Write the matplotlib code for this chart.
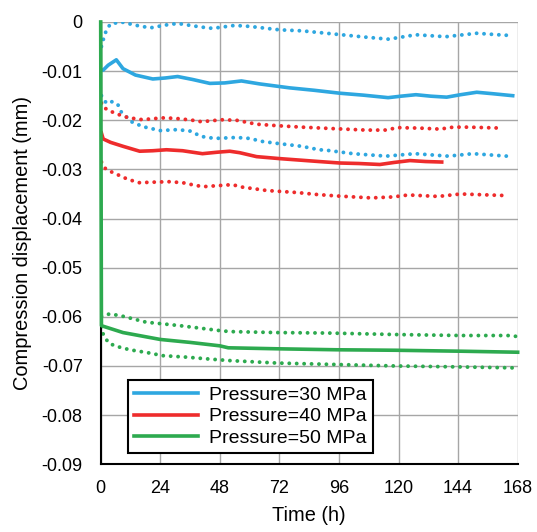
import matplotlib.pyplot as plt

plt.rcParams['font.family'] = ['Liberation Sans', 'DejaVu Sans']

# 30 MPa
t_b = [0, 1, 3, 6.3, 9, 14, 21, 26, 31, 37, 44, 50, 56.7, 64, 76, 86, 96.4, 106, 115.8, 121, 127, 133, 139.4, 145, 151.5, 158, 166]
y_b = [-0.0097, -0.0098, -0.0088, -0.0077, -0.0095, -0.0108, -0.0116, -0.0114, -0.0111, -0.0117, -0.0125, -0.0124, -0.0120, -0.0126, -0.0134, -0.0139, -0.0145, -0.0149, -0.0154, -0.0151, -0.0148, -0.0151, -0.0153, -0.0148, -0.0143, -0.0146, -0.0150]
t_b_hi = [0.3, 1.2, 2.2, 3.9, 8.3, 14.4, 20, 26.5, 31, 40, 45, 54, 60, 72, 81, 95, 107, 116, 127, 139, 151.5, 163, 166]
y_b_hi = [-0.0050, -0.0033, -0.0018, -0.0004, 0.0000, -0.0007, -0.0012, -0.0006, -0.0003, -0.0010, -0.0013, -0.0007, -0.0009, -0.0016, -0.0018, -0.0025, -0.0031, -0.0035, -0.0026, -0.0030, -0.0023, -0.0027, -0.0027]
t_b_lo = [0.3, 1.2, 2.5, 4.7, 6.9, 8.3, 12.4, 17, 24, 31, 36, 40.6, 46, 54.7, 60, 65, 71, 76, 81, 88, 91, 101.7, 115, 126.7, 140, 150, 163.7]
y_b_lo = [-0.0150, -0.0158, -0.0166, -0.0162, -0.0168, -0.0183, -0.0203, -0.0213, -0.0221, -0.0219, -0.0222, -0.0233, -0.0237, -0.0235, -0.0237, -0.0243, -0.0247, -0.0250, -0.0253, -0.0260, -0.0261, -0.0268, -0.0273, -0.0268, -0.0273, -0.0268, -0.0273]

# 40 MPa
t_r = [0.3, 1, 4, 9, 15.7, 21, 26.5, 33, 41, 47, 52, 56, 62.8, 72, 80, 88, 96.4, 104, 112.5, 118, 124.6, 131, 137.4]
y_r = [-0.0226, -0.0238, -0.0245, -0.0253, -0.0263, -0.0262, -0.0260, -0.0262, -0.0268, -0.0265, -0.0263, -0.0266, -0.0274, -0.0278, -0.0281, -0.0284, -0.0287, -0.0288, -0.0290, -0.0286, -0.0282, -0.0284, -0.0285]
t_r_hi = [0.3, 1, 3.2, 6, 8.7, 11.3, 14.4, 17, 20.4, 25.8, 32, 37, 40.6, 48.7, 54.7, 62.8, 71, 81, 93.6, 107, 114.5, 119.8, 128.7, 136.7, 142, 148, 162]
y_r_hi = [-0.0165, -0.0173, -0.0180, -0.0186, -0.0191, -0.0195, -0.0197, -0.0199, -0.0197, -0.0195, -0.0197, -0.0200, -0.0203, -0.0199, -0.0200, -0.0208, -0.0211, -0.0214, -0.0217, -0.0220, -0.0220, -0.0215, -0.0216, -0.0218, -0.0214, -0.0214, -0.0216]
t_r_lo = [0.3, 2, 4.7, 7.4, 10, 12.8, 15.5, 21, 27.4, 33, 38.6, 41.7, 53, 57, 67, 79, 87, 95, 109, 117.8, 123.9, 136, 145, 162]
y_r_lo = [-0.0285, -0.0299, -0.0306, -0.0312, -0.0318, -0.0323, -0.0327, -0.0326, -0.0325, -0.0327, -0.0333, -0.0335, -0.0331, -0.0336, -0.0343, -0.0347, -0.0351, -0.0354, -0.0358, -0.0356, -0.0352, -0.0355, -0.0350, -0.0353]

# 50 MPa
t_g = [0, 0.3, 9, 24, 36, 48, 51.4, 71, 95, 119, 146, 168]
y_g = [0.0, -0.0618, -0.0632, -0.0646, -0.0652, -0.0659, -0.0663, -0.0665, -0.0667, -0.0668, -0.0670, -0.0672]
t_g_hi = [0.3, 3.6, 8.3, 13, 18.4, 24.5, 32, 40, 48, 52, 71, 92, 119, 145, 164, 168]
y_g_hi = [-0.0599, -0.0594, -0.0598, -0.0604, -0.0611, -0.0614, -0.0618, -0.0623, -0.0628, -0.0630, -0.0632, -0.0633, -0.0636, -0.0638, -0.0638, -0.0640]
t_g_lo = [0.3, 1, 3, 5.6, 11.7, 19, 25, 34.6, 44, 52, 71, 95, 119, 146, 168]
y_g_lo = [-0.0620, -0.0635, -0.0652, -0.0659, -0.0667, -0.0673, -0.0679, -0.0682, -0.0686, -0.0689, -0.0694, -0.0697, -0.0700, -0.0702, -0.0704]

blue = '#2EA7E0'
red = '#EE2C2C'
green = '#2DAA4F'

fig = plt.figure(figsize=(5.37, 5.32), dpi=100)
ax = fig.add_axes([0.1875, 0.1273, 0.7765, 0.8314])

dots = dict(linestyle=(0, (0.01, 1.9)), linewidth=2.8, dash_capstyle='round')

ax.plot(t_b_hi, y_b_hi, color=blue, **dots)
ax.plot(t_b_lo, y_b_lo, color=blue, **dots)
ax.plot(t_r_hi, y_r_hi, color=red, **dots)
ax.plot(t_r_lo, y_r_lo, color=red, **dots)
ax.plot(t_g_hi, y_g_hi, color=green, **dots)
ax.plot(t_g_lo, y_g_lo, color=green, **dots)

ax.plot(t_b, y_b, color=blue, linewidth=2.6, label='Pressure=30 MPa')
ax.plot(t_r, y_r, color=red, linewidth=2.6, label='Pressure=40 MPa')
ax.plot(t_g, y_g, color=green, linewidth=2.6, label='Pressure=50 MPa', zorder=4, clip_on=False)

ax.set_xlim(0, 168)
ax.set_ylim(-0.09, 0)
ax.set_xticks(range(0, 169, 24))
ax.set_yticks([-0.09 + 0.01 * i for i in range(10)])
ax.set_yticklabels(['-0.09', '-0.08', '-0.07', '-0.06', '-0.05', '-0.04', '-0.03', '-0.02', '-0.01', '0'])
ax.tick_params(length=0, labelsize=13)
ax.tick_params(axis='y', pad=13)
ax.tick_params(axis='x', pad=11)
ax.grid(True, color='#A6A6A6', linewidth=1)
ax.set_axisbelow(True)
for s in ['top', 'right']:
    ax.spines[s].set_visible(False)
ax.spines['left'].set_linewidth(1.5)
ax.spines['bottom'].set_linewidth(1.5)

ax.set_xlabel('Time (h)', fontsize=14.4, labelpad=7)
ax.set_ylabel('Compression displacement (mm)', fontsize=14.4, labelpad=7)

leg = ax.legend(loc='lower left', bbox_to_anchor=(0.065, 0.026), borderaxespad=0, fontsize=14,
                frameon=True, fancybox=False, edgecolor='black', framealpha=1,
                handlelength=3.3, borderpad=0.3, labelspacing=0.2, handletextpad=0.6)
leg.get_frame().set_linewidth(1.5)

fig.savefig('out.png', dpi=100)
